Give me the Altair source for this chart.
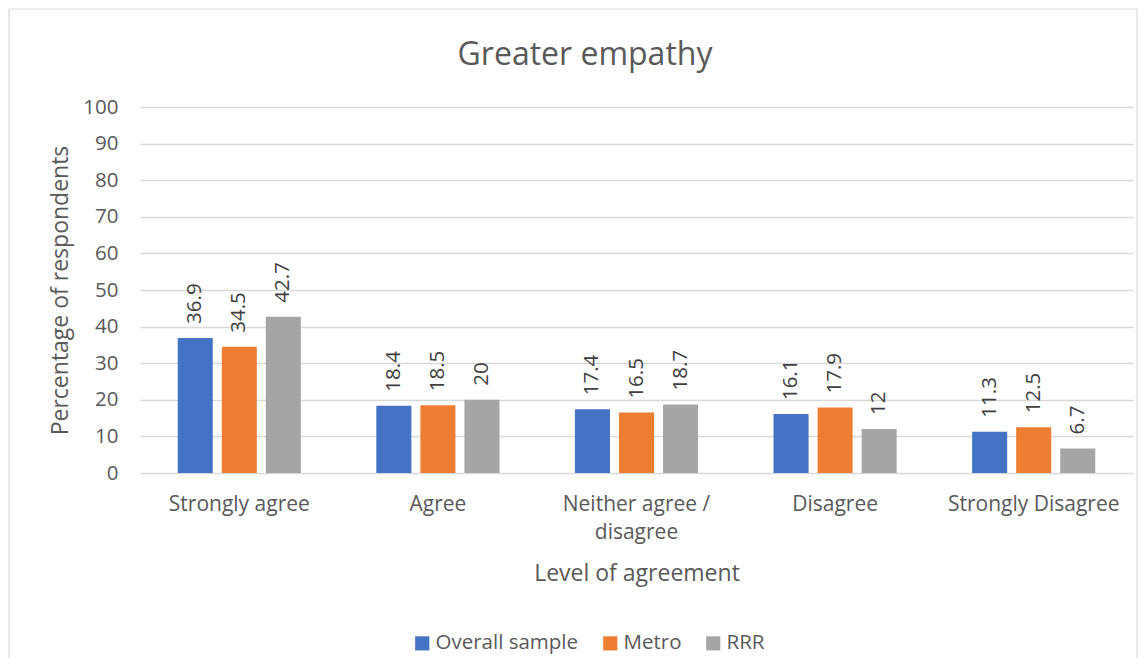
import altair as alt
import pandas as pd

categories = ["Strongly agree", "Agree", "Neither agree / disagree", "Disagree", "Strongly Disagree"]
series = ["Overall sample", "Metro", "RRR"]
overall = [36.9, 18.4, 17.4, 16.1, 11.3]
metro = [34.5, 18.5, 16.5, 17.9, 12.5]
rrr = [42.7, 20, 18.7, 12, 6.7]
colors = ["#4472C4", "#ED7D31", "#A5A5A5"]
chart_title = "Greater empathy"

rows = []
for s, vals in zip(series, [overall, metro, rrr]):
    for c, v in zip(categories, vals):
        rows.append({"cat": c, "series": s, "value": v, "label": f"{v:g}"})
df = pd.DataFrame(rows)

FONT = "Open Sans"
TXT = "#595959"

x = alt.X("cat:N", sort=categories,
          scale=alt.Scale(paddingInner=0.38, paddingOuter=0.19),
          axis=alt.Axis(title="Level of agreement", labelAngle=0, labelFontSize=21,
                        titleFontSize=23, labelPadding=20, titlePadding=20,
                        labelLineHeight=28,
                        labelExpr="datum.label == 'Neither agree / disagree' ? ['Neither agree /', 'disagree'] : datum.label",
                        ticks=False, domain=False, labelColor=TXT, titleColor=TXT,
                        titleFontWeight="normal", labelFont=FONT, titleFont=FONT))
xo = alt.XOffset("series:N", sort=series, scale=alt.Scale(paddingInner=0.2045, paddingOuter=0))
y = alt.Y("value:Q", scale=alt.Scale(domain=[0, 100]),
          axis=alt.Axis(title="Percentage of respondents", values=list(range(0, 101, 10)),
                        labelFontSize=20.5, titleFontSize=23, labelPadding=22, titlePadding=10,
                        ticks=False, domain=False, gridColor="#d9d9d9", gridWidth=1.3,
                        labelColor=TXT, titleColor=TXT, titleFontWeight="normal",
                        labelFont=FONT, titleFont=FONT))
color = alt.Color("series:N", sort=series, scale=alt.Scale(domain=series, range=colors),
                  legend=alt.Legend(title=None, orient="none", direction="horizontal",
                                    legendX=272, legendY=526, symbolType="square",
                                    symbolSize=200, symbolStrokeWidth=0, labelFontSize=20.5,
                                    labelColor=TXT, labelFont=FONT, columnPadding=21,
                                    labelOffset=3, symbolOpacity=1))

base = alt.Chart(df)
bars = base.mark_bar(opacity=1).encode(x=x, xOffset=xo, y=y, color=color)
labels = base.mark_text(angle=270, align="left", baseline="middle", dx=14,
                        fontSize=20.5, color="#404040", font=FONT).encode(
    x=x, xOffset=xo, y=y, text="label:N")

border = alt.Chart(pd.DataFrame({"a": [0]})).mark_rect(
    fill=None, stroke="#d9d9d9", strokeWidth=1.2, clip=False).encode(
    x=alt.value(-131), x2=alt.value(997), y=alt.value(-98), y2=alt.value(556))

title = alt.Chart(pd.DataFrame({"t": [chart_title]})).mark_text(
    fontSize=32, font=FONT, color=TXT, align="center", baseline="middle").encode(
    x=alt.value(445), y=alt.value(-52), text="t:N")

chart = alt.layer(border, bars, labels, title).properties(
    width=993, height=366,
    padding={"left": 132, "top": 99, "right": 6, "bottom": 185},
    autosize=alt.AutoSizeParams(type="none"),
).configure_view(stroke=None)

chart.save("out.html", embed_options={"renderer": "svg", "actions": False})
